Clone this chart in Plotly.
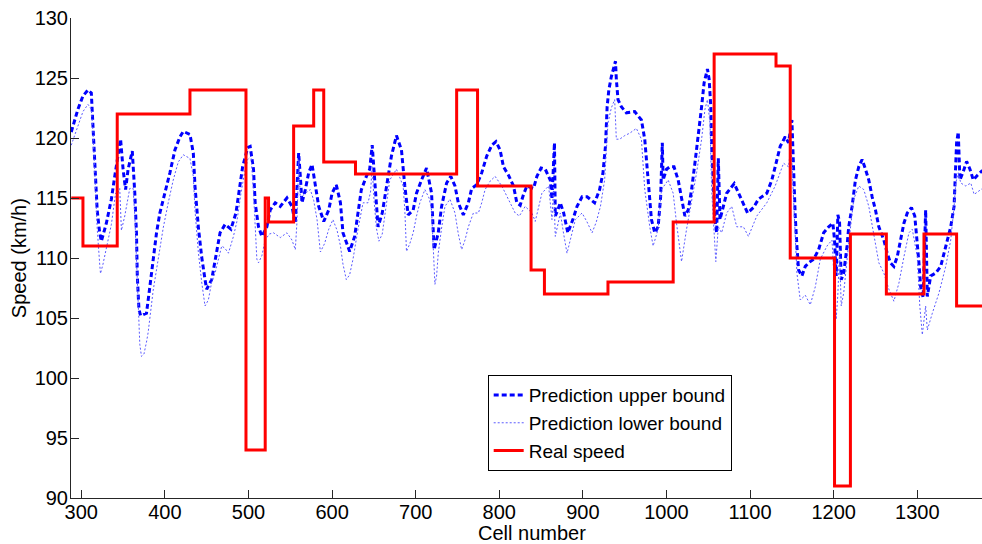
import plotly.graph_objects as go

# ---------------- data ----------------
upper_x = [288, 296, 302, 308, 312, 314, 316, 319, 322, 324, 330, 336, 340, 344, 347, 350, 353, 356, 361, 364,
           366, 367, 369, 371, 378, 382, 386, 390, 394, 400, 406, 412, 418, 422, 430, 434, 436, 440, 444, 448,
           450, 456, 462, 466, 472, 479, 485, 490, 493, 499, 502, 506, 508, 512, 516, 522, 526, 532, 538, 546,
           552, 556, 558, 560, 562, 564, 568, 572, 576, 580, 584, 590, 596, 600, 605, 610, 613, 621, 627, 631,
           635, 641, 645, 648, 650, 653, 655, 660, 665, 671, 677, 683, 687, 691, 697, 701, 707, 713, 719, 720,
           722, 727, 731, 737, 742, 747, 751, 757, 763, 767, 773, 779, 785, 791, 796, 801, 805, 811, 817, 821,
           825, 829, 833, 841, 845, 850, 855, 861, 863, 866, 867, 870, 873, 877, 882, 888, 893, 899, 905, 914,
           920, 924, 927, 929, 931, 934, 939, 940, 942, 946, 952, 962, 970, 974, 976, 979, 982, 986, 990, 993,
           995, 996, 1000, 1004, 1009, 1014, 1018, 1022, 1026, 1030, 1034, 1038, 1042, 1045, 1049, 1051, 1053, 1054, 1056, 1058,
           1060, 1062, 1064, 1068, 1072, 1081, 1088, 1097, 1104, 1110, 1120, 1126, 1130, 1136, 1142, 1146, 1150, 1152, 1154, 1156,
           1158, 1162, 1166, 1170, 1176, 1182, 1188, 1194, 1199, 1201, 1203, 1205, 1207, 1209, 1212, 1216, 1218, 1222, 1226, 1230,
           1234, 1238, 1242, 1246, 1250, 1254, 1260, 1264, 1268, 1272, 1276, 1280, 1284, 1288, 1293, 1297, 1300, 1302, 1304, 1307,
           1310, 1312, 1316, 1322, 1328, 1334, 1340, 1344, 1346, 1347, 1349, 1350, 1351, 1355, 1359, 1363, 1367, 1372, 1376, 1378]
upper_y = [120.5, 122.4, 123.5, 124.0, 123.75, 121.0, 117.4, 114.0, 112.1, 111.4, 112.9, 114.9, 116.8, 118.5, 119.9, 117.4, 115.7, 117.4, 118.9, 115.4,
           112.1, 108.5, 105.7, 105.2, 105.4, 107.6, 110.1, 112.1, 113.75, 115.4, 117.1, 119.0, 120.1, 120.55, 120.3, 118.75, 116.0, 112.6, 110.1, 108.2,
           107.4, 108.2, 110.7, 112.1, 112.8, 112.4, 113.75, 116.0, 117.6, 119.2, 119.3, 117.4, 114.6, 112.6, 111.8, 112.6, 114.0, 114.6, 114.3, 115.0,
           114.3, 112.9, 116.0, 118.75, 116.8, 114.6, 115.7, 117.1, 117.8, 116.0, 114.3, 113.05, 114.0, 115.4, 116.1, 114.6, 112.1, 110.55, 111.8, 113.75,
           115.7, 116.8, 117.4, 119.4, 117.4, 114.6, 112.6, 113.75, 116.0, 118.5, 120.2, 119.0, 116.0, 113.6, 114.0, 115.4, 116.5, 117.5, 115.4, 113.5,
           110.7, 112.1, 114.3, 116.25, 116.8, 116.0, 114.6, 113.6, 114.6, 115.8, 116.1, 117.1, 118.5, 119.4, 119.7, 119.0, 117.6, 116.9, 116.0, 114.6,
           114.4, 115.3, 116.0, 115.8, 116.8, 117.5, 117.4, 116.5, 114.9, 119.6, 113.5, 114.0, 114.6, 113.75, 112.1, 113.2, 114.3, 115.1, 115.1, 114.6,
           115.7, 117.1, 119.3, 122.6, 124.0, 125.1, 126.4, 124.9, 123.2, 122.6, 122.1, 122.2, 121.5, 119.9, 118.2, 115.7, 113.2, 112.1, 112.6, 115.1,
           119.6, 116.5, 117.4, 117.6, 117.6, 116.5, 114.9, 113.5, 114.0, 115.7, 117.9, 120.1, 122.6, 124.6, 125.75, 124.9, 122.6, 119.3, 115.7, 113.2,
           112.1, 118.3, 113.2, 114.3, 115.4, 116.2, 115.1, 113.75, 114.2, 114.9, 115.4, 116.5, 117.6, 119.3, 120.1, 119.6, 121.5, 117.1, 113.5, 111.0,
           109.0, 108.5, 109.3, 109.6, 109.9, 110.7, 112.1, 112.6, 112.9, 111.5, 108.5, 113.6, 113.0, 108.2, 108.75, 111.0, 112.6, 114.3, 116.5, 117.6,
           118.2, 117.4, 116.5, 115.1, 114.0, 112.6, 111.5, 110.4, 109.6, 109.3, 110.1, 111.5, 112.9, 113.75, 114.2, 113.5, 111.5, 109.6, 107.6, 106.7,
           114.0, 106.8, 108.5, 108.75, 109.3, 111.0, 112.6, 114.3, 117.6, 119.6, 120.5, 118.2, 116.5, 117.2, 118.05, 117.4, 116.5, 116.9, 117.2, 117.3]

lower_x = [288, 296, 302, 308, 312, 314, 316, 319, 322, 323, 326, 330, 336, 341, 344, 346, 348, 352, 358, 362,
           364, 366, 368, 370, 372, 375, 378, 380, 386, 392, 398, 404, 410, 416, 422, 430, 434, 436, 440, 444,
           448, 452, 456, 460, 464, 468, 472, 476, 482, 486, 491, 495, 499, 503, 506, 508, 510, 512, 516, 520,
           525, 530, 538, 546, 552, 556, 558, 560, 562, 568, 574, 578, 582, 586, 591, 596, 601, 606, 610, 613,
           617, 621, 625, 631, 637, 643, 646, 648, 650, 653, 656, 660, 665, 669, 677, 685, 687, 689, 693, 697,
           701, 705, 711, 716, 719, 721, 723, 725, 727, 731, 735, 741, 747, 751, 755, 759, 763, 769, 775, 779,
           783, 789, 795, 803, 811, 819, 824, 831, 839, 843, 851, 859, 863, 865, 867, 873, 877, 881, 886, 891,
           899, 905, 911, 916, 921, 926, 930, 934, 938, 940, 944, 950, 956, 964, 970, 974, 980, 984, 990, 994,
           1002, 1008, 1012, 1018, 1024, 1030, 1036, 1042, 1046, 1049, 1052, 1054, 1057, 1059, 1062, 1066, 1072, 1078, 1084, 1092,
           1098, 1108, 1120, 1130, 1140, 1146, 1149, 1152, 1156, 1160, 1166, 1172, 1178, 1184, 1192, 1198, 1201, 1203, 1205, 1207,
           1209, 1212, 1218, 1224, 1230, 1236, 1242, 1248, 1254, 1260, 1266, 1272, 1278, 1284, 1290, 1294, 1300, 1303, 1306, 1310,
           1312, 1318, 1326, 1334, 1340, 1344, 1346, 1349, 1352, 1358, 1364, 1368, 1376, 1378]
lower_y = [119.4, 121.0, 122.2, 122.8, 122.4, 120.5, 117.0, 112.5, 109.5, 108.7, 109.5, 110.8, 112.8, 115.4, 115.4, 115.8, 112.3, 113.5, 115.8, 115.8,
           113.5, 110.0, 106.0, 102.8, 101.8, 102.0, 103.0, 103.8, 107.3, 110.0, 112.5, 114.6, 116.5, 118.0, 118.6, 118.3, 116.8, 114.0, 110.5, 108.0,
           106.0, 106.5, 108.0, 108.75, 110.0, 111.0, 110.8, 110.4, 111.8, 113.0, 115.4, 117.0, 118.2, 118.5, 115.5, 112.0, 109.9, 109.6, 110.2, 111.5,
           112.0, 112.1, 111.7, 112.1, 111.5, 110.7, 113.0, 118.2, 115.0, 115.4, 115.7, 114.8, 113.2, 110.5, 111.2, 112.4, 113.2, 112.3, 111.0, 109.5,
           108.2, 108.6, 109.9, 112.4, 114.6, 114.6, 115.5, 117.6, 115.0, 112.5, 111.4, 112.0, 114.5, 116.5, 117.4, 116.0, 114.0, 110.55, 111.2, 112.1,
           113.5, 114.6, 115.7, 115.0, 114.0, 111.0, 107.8, 108.5, 110.4, 112.5, 114.3, 114.9, 113.75, 112.0, 110.7, 111.5, 112.6, 113.75, 113.75, 114.6,
           115.7, 116.4, 116.8, 116.0, 114.9, 113.75, 113.5, 114.3, 113.75, 113.05, 115.4, 116.0, 113.2, 116.0, 111.8, 113.75, 112.0, 110.4, 111.8, 113.2,
           113.75, 113.0, 112.1, 113.0, 114.3, 116.5, 121.25, 122.5, 123.2, 119.9, 119.9, 120.2, 120.4, 120.8, 119.9, 115.7, 112.6, 111.0, 112.4, 115.7,
           116.5, 115.4, 112.9, 109.7, 112.4, 114.6, 117.1, 119.9, 122.4, 123.2, 121.25, 115.7, 111.5, 109.7, 112.6, 112.1, 113.75, 114.3, 112.6, 112.6,
           111.8, 113.5, 114.6, 116.0, 117.9, 117.6, 119.5, 114.3, 108.75, 106.5, 106.9, 106.1, 107.6, 109.9, 111.0, 111.5, 108.0, 104.9, 107.0, 110.7,
           106.0, 107.1, 111.25, 114.9, 116.0, 115.7, 114.3, 112.1, 109.6, 108.75, 107.4, 106.4, 107.9, 110.1, 112.1, 112.4, 110.1, 106.0, 103.6, 106.0,
           104.0, 105.4, 107.1, 109.3, 111.5, 114.3, 116.25, 117.1, 116.25, 116.0, 116.25, 115.3, 115.7, 115.8]

speed_x = [288, 302, 343, 430, 497, 520, 524, 554, 578, 590, 628, 749, 774, 838, 854, 930, 1008, 1057, 1131, 1148,
           1201, 1220, 1263, 1308, 1347, 1380]
speed_y = [115, 111, 122, 124, 94, 115, 113, 121, 124, 118, 117, 124, 116, 109, 107, 108, 113, 127, 126, 110,
           91, 112, 107, 112, 106, 106]

x_ticks = [300, 400, 500, 600, 700, 800, 900, 1000, 1100, 1200, 1300]
y_ticks = [90, 95, 100, 105, 110, 115, 120, 125, 130]

FONT = "Liberation Sans, Arial, Helvetica, sans-serif"
AX = "#262626"

fig = go.Figure()
fig.add_trace(go.Scatter(x=upper_x, y=upper_y, mode="lines", name="Prediction upper bound",
                         line=dict(color="#0000ff", width=3, dash="5px,3px")))
fig.add_trace(go.Scatter(x=lower_x, y=lower_y, mode="lines", name="Prediction lower bound",
                         line=dict(color="#5a5aff", width=1, dash="2px,2px")))
fig.add_trace(go.Scatter(x=speed_x, y=speed_y, mode="lines", name="Real speed",
                         line=dict(color="#ff0000", width=3, shape="hv")))

axis_common = dict(showgrid=False, zeroline=False, showline=True, linecolor=AX, linewidth=1,
                   ticks="inside", ticklen=8, tickcolor=AX, tickwidth=1, automargin=False,
                   tickfont=dict(family=FONT, size=20, color="#000000"), mirror=False)

fig.update_xaxes(range=[287.7, 1377.4], tickvals=x_ticks, ticktext=[str(v) for v in x_ticks],
                 ticklabelstandoff=-4, **axis_common)
fig.update_yaxes(range=[90, 130], tickvals=y_ticks, ticktext=[str(v) for v in y_ticks],
                 ticklabelstandoff=-2, **axis_common)

fig.update_layout(
    width=982, height=544,
    margin=dict(l=71, r=0, t=18, b=46, pad=0, autoexpand=False),
    paper_bgcolor="white", plot_bgcolor="white",
    font=dict(family=FONT, size=20, color="#000000"),
    showlegend=True,
    legend=dict(x=0.4574, y=0.2558, xanchor="left", yanchor="top",
                bgcolor="white", bordercolor="#000000", borderwidth=1,
                font=dict(family=FONT, size=19, color="#000000"),
                traceorder="normal", itemwidth=30),
    annotations=[
        dict(text="Cell number", xref="paper", yref="paper", x=0.5057, y=-0.072,
             xanchor="center", yanchor="middle", showarrow=False,
             font=dict(family=FONT, size=20, color="#000000")),
        dict(text="Speed (km/h)", xref="paper", yref="paper", x=-0.0569, y=0.5,
             xanchor="center", yanchor="middle", textangle=-90, showarrow=False,
             font=dict(family=FONT, size=20, color="#000000")),
    ],
)

fig.write_html("out.html", config={"displayModeBar": False},
               post_script="document.body.style.margin='0';document.body.style.padding='0';"
                           "document.body.style.overflow='hidden';")
